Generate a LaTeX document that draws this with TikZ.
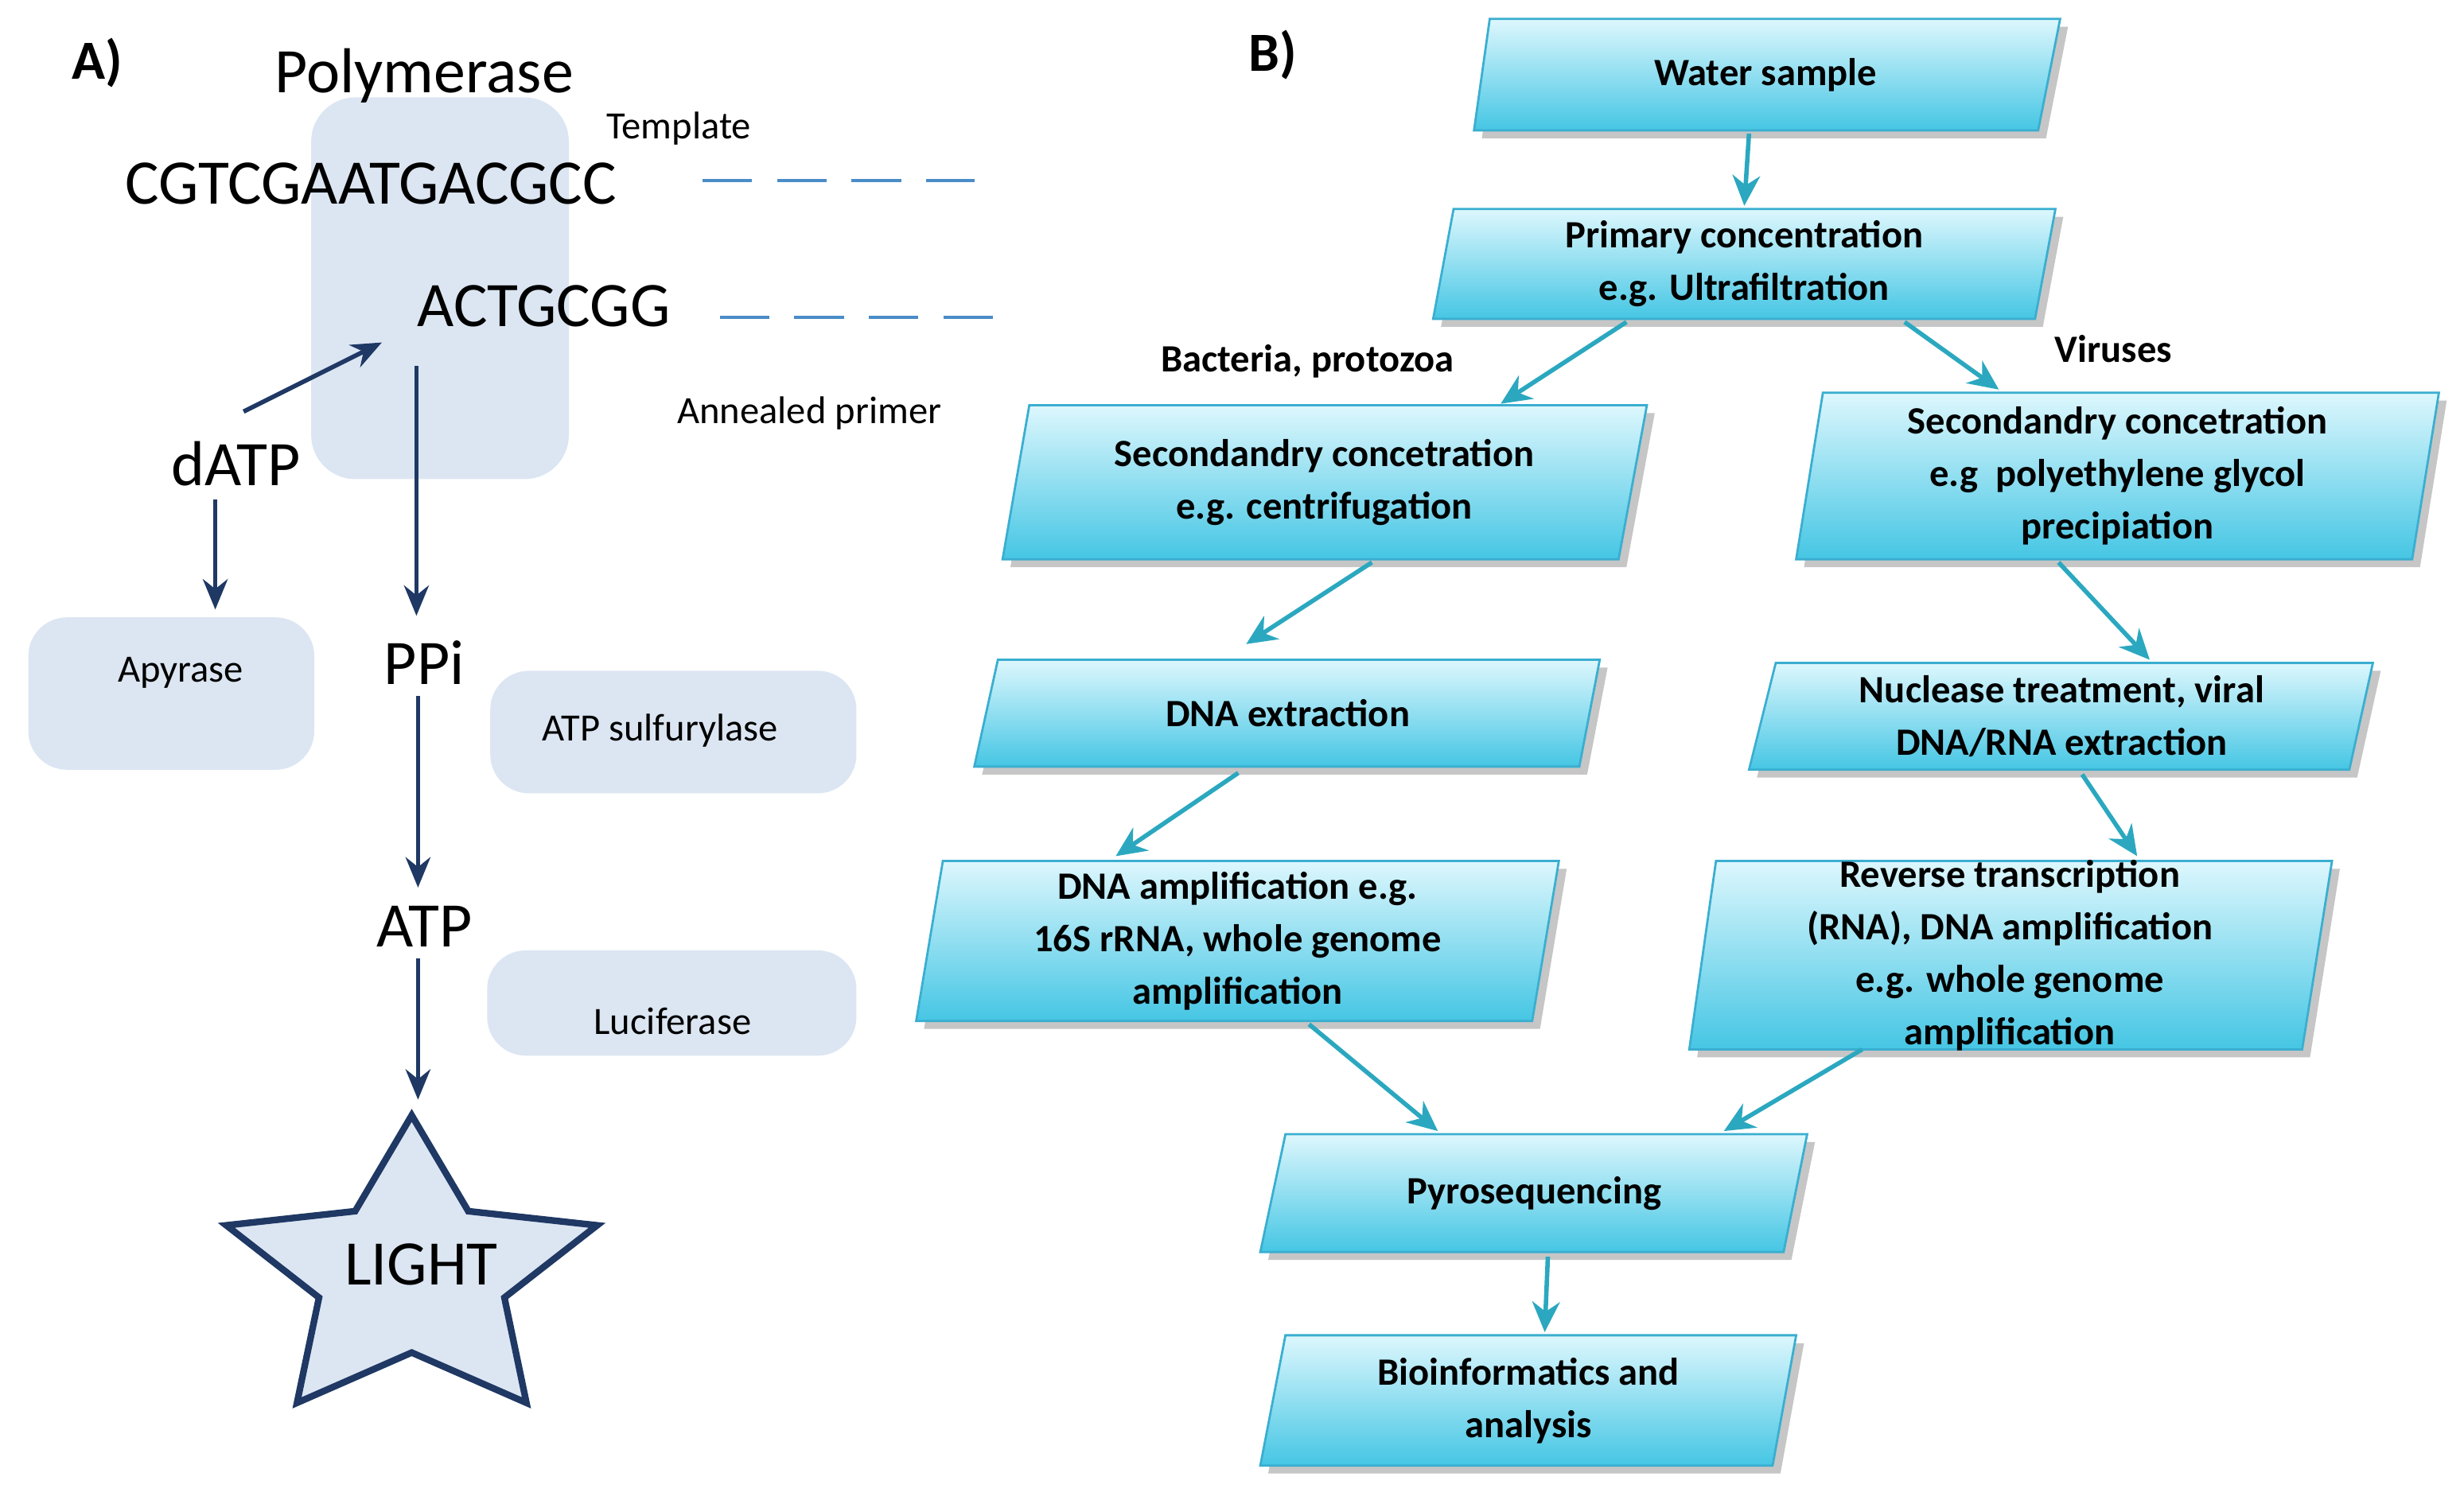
\documentclass[tikz,border=0pt]{standalone}
\usepackage{fontspec}
\setmainfont{Carlito}
\usetikzlibrary{arrows.meta}
\definecolor{navy}{HTML}{1F3864}
\definecolor{pale}{HTML}{DCE6F2}
\definecolor{tealc}{HTML}{2BA8C0}
\definecolor{cyl}{HTML}{DDF7FD}
\definecolor{cyd}{HTML}{45C6E4}
\definecolor{cyb}{HTML}{3AAED0}
\definecolor{dashc}{HTML}{4A8CC8}
\newcommand{\pbox}[8]{%
  \fill[gray!45] (#2+5,#4+5) -- (#3+5,#4+5) -- (#5+5,#7+5) -- (#6+5,#7+5) -- cycle;
  \path[draw=cyb, line width=0.8pt, top color=cyl, bottom color=cyd] (#2,#4) -- (#3,#4) -- (#5,#7) -- (#6,#7) -- cycle;
  \node[btxt] (#1) at ({(#2+#3+#5+#6)/4},{(#4+#7)/2}) {#8};}
\begin{document}
\begin{tikzpicture}[x=0.02cm,y=-0.02cm,
  btxt/.style={align=center,font=\fontsize{14}{19}\selectfont\bfseries,inner sep=0},
  big/.style={font=\fontsize{23}{26}\selectfont,inner sep=0},
  small/.style={font=\fontsize{14}{17}\selectfont,inner sep=0},
  tarr/.style={tealc,line width=1.6pt,-{Stealth[length=11pt,width=10pt]}},
  narr/.style={navy,line width=1.6pt,-{Stealth[length=11pt,width=9pt]}},
  dl/.style={dashc,line width=1.3pt,dash pattern=on 18pt off 9pt}]
\useasboundingbox (0,0) rectangle (1568,957);
% ---------- Panel A
\node[font=\fontsize{20}{24}\selectfont\bfseries] (lA) at (62,40) {A)};
\fill[pale,rounded corners=16pt] (198,62) rectangle (362,305);
\node[big] (pol) at (270,48) {Polymerase};
\node[small] (tmpl) at (432,82) {Template};
\node[big] (seq1) at (236,117) {CGTCGAATGACGCC};
\coordinate (d1a) at (447,115); \coordinate (d1b) at (620,115);
\draw[dl] (d1a) -- (d1b);
\node[big] (seq2) at (346,195) {ACTGCGG};
\coordinate (d2a) at (458,202); \coordinate (d2b) at (632,202);
\draw[dl] (d2a) -- (d2b);
\node[small] (ann) at (515,263) {Annealed primer};
\node[big] (datp) at (150,295) {dATP};
\fill[pale,rounded corners=14pt] (18,393) rectangle (200,490);
\node[small] (apy) at (115,428) {Apyrase};
\node[big] (ppi) at (270,422) {PPi};
\fill[pale,rounded corners=14pt] (312,427) rectangle (545,505);
\node[small] (sulf) at (420,465) {ATP sulfurylase};
\node[big] (atp) at (270,590) {ATP};
\fill[pale,rounded corners=14pt] (310,605) rectangle (545,672);
\node[small] (luc) at (428,650) {Luciferase};
% star
\draw[navy,line width=2.4pt,fill=pale]
  (262,710) -- (226,771) -- (144,780) -- (203,826) -- (189,893) -- (262,861)
  -- (335,893) -- (321,826) -- (380,780) -- (298,771) -- cycle;
\node[big] (light) at (268,805) {LIGHT};
\coordinate (dtip) at (243,218);
\coordinate (dstart) at (155,262);
\draw[narr] (dstart) -- (dtip);
\coordinate (a1) at (137,318); \coordinate (a1e) at (137,388);
\draw[narr] (a1) -- (a1e);
\coordinate (b1) at (265,233);
\draw[narr] (b1) -- (265,392);
\draw[narr] (266,443) -- (266,565);
\draw[narr] (266,610) -- (266,700);
% ---------- Panel B
\node[font=\fontsize{20}{24}\selectfont\bfseries] (lB) at (810,35) {B)};
\pbox{w}{948}{1311}{12}{1297}{938}{83}{Water sample}
\pbox{p}{925}{1308}{133}{1295}{912}{203}{Primary concentration\\e.g. Ultrafiltration}
\pbox{sl}{655}{1048}{258}{1030}{638}{356}{Secondandry concetration\\e.g. centrifugation}
\pbox{sr}{1160}{1552}{250}{1535}{1143}{356}{Secondandry concetration\\e.g\ \ polyethylene glycol\\precipiation}
\pbox{dx}{635}{1018}{420}{1005}{620}{488}{DNA extraction}
\pbox{nu}{1130}{1510}{422}{1495}{1113}{490}{Nuclease treatment, viral\\DNA/RNA extraction}
\pbox{da}{600}{992}{548}{975}{583}{650}{DNA amplification e.g.\\16S rRNA, whole genome\\amplification}
\pbox{rt}{1092}{1484}{548}{1465}{1075}{668}{Reverse transcription\\(RNA), DNA amplification\\e.g. whole genome\\amplification}
\pbox{py}{818}{1150}{722}{1135}{802}{797}{Pyrosequencing}
\pbox{bi}{818}{1143}{850}{1128}{802}{933}{Bioinformatics and\\analysis}
\node[btxt] (bac) at (832,230) {Bacteria, protozoa};
\node[btxt] (vir) at (1345,222) {Viruses};
\draw[tarr] (1113,85) -- (1110,131);
\draw[tarr] (1035,205) -- (955,257);
\draw[tarr] (1212,205) -- (1272,248);
\draw[tarr] (873,358) -- (793,410);
\draw[tarr] (1310,358) -- (1368,420);
\draw[tarr] (788,492) -- (710,545);
\draw[tarr] (1325,493) -- (1360,545);
\draw[tarr] (833,652) -- (915,720);
\draw[tarr] (1185,668) -- (1097,720);
\draw[tarr] (985,800) -- (983,848);
\end{tikzpicture}
\end{document}
